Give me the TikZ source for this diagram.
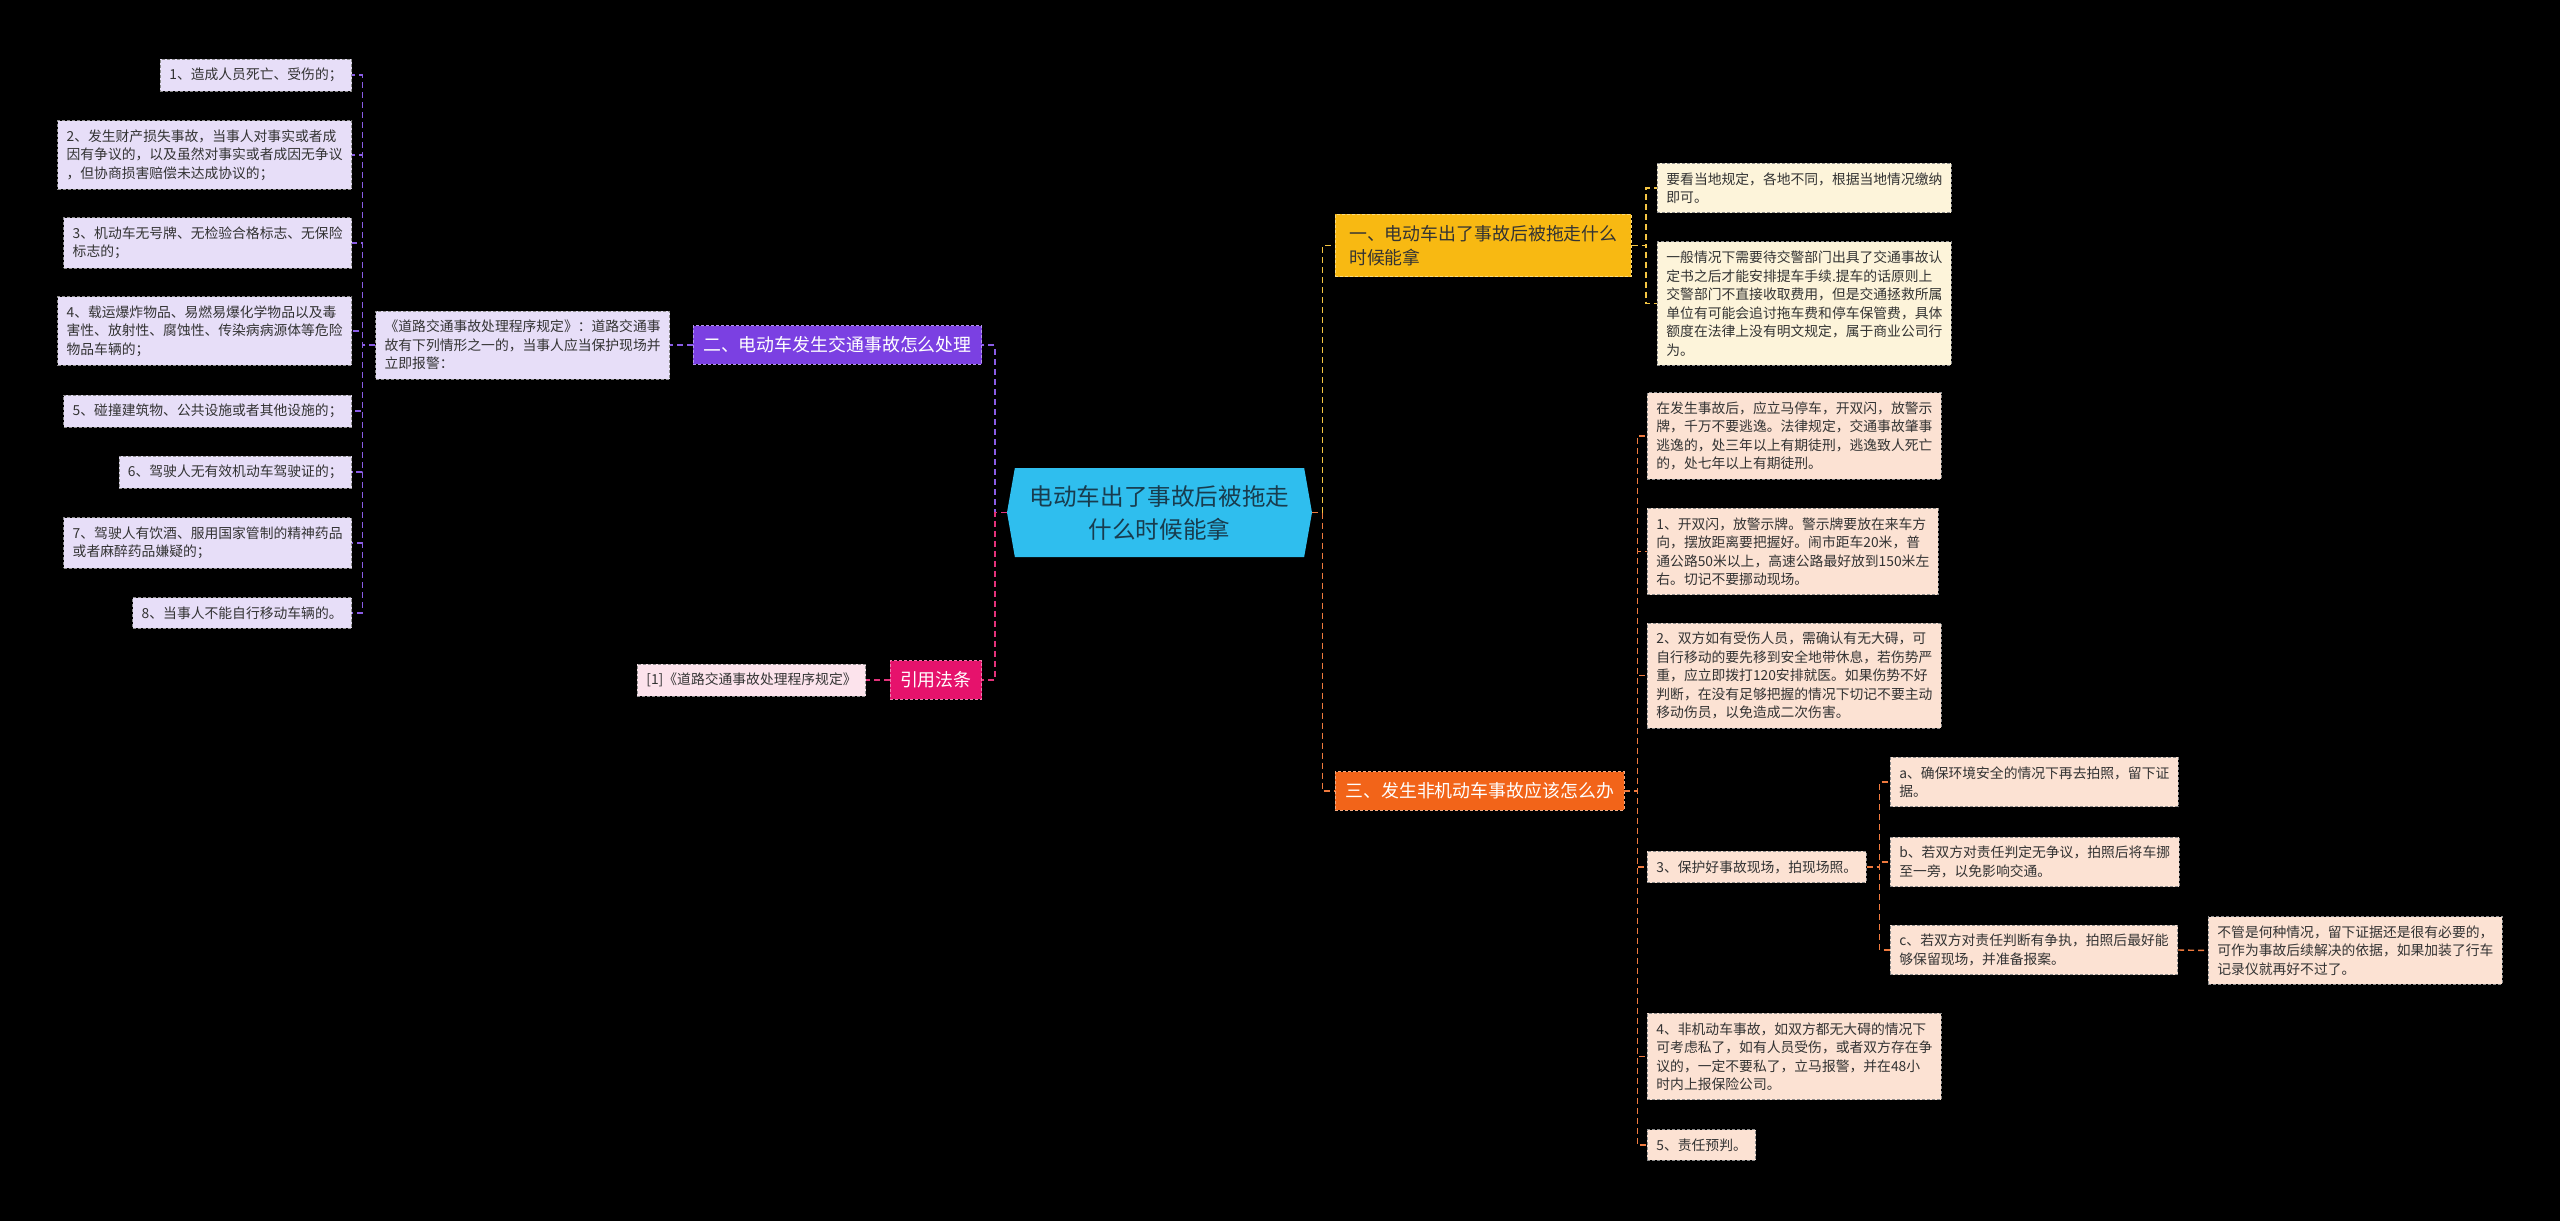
\documentclass[tikz,border=0pt]{standalone}
\usepackage{fontspec}
\setmainfont{Noto Sans CJK SC}
\usetikzlibrary{shapes.symbols}
\definecolor{RootCyan}{RGB}{47,190,238}
\definecolor{RootText}{RGB}{24,60,78}
\definecolor{LeafText}{RGB}{51,51,51}
\definecolor{LeafEdge}{RGB}{140,140,140}
\definecolor{PurpleMain}{RGB}{123,64,226}
\definecolor{PurpleLeaf}{RGB}{231,222,248}
\definecolor{PurpleLine}{RGB}{138,92,230}
\definecolor{PinkMain}{RGB}{230,18,108}
\definecolor{PinkLeaf}{RGB}{252,227,236}
\definecolor{PinkLine}{RGB}{226,50,122}
\definecolor{GoldMain}{RGB}{248,185,18}
\definecolor{GoldLeaf}{RGB}{253,244,218}
\definecolor{GoldLine}{RGB}{244,197,66}
\definecolor{OrangeMain}{RGB}{242,100,25}
\definecolor{OrangeLeaf}{RGB}{252,226,211}
\definecolor{OrangeLine}{RGB}{239,122,62}

\begin{document}
\begin{tikzpicture}[x=1pt, y=-1pt,
    leafbox/.style={rectangle, draw=LeafEdge, dash pattern=on 3pt off 2pt, line width=0.8pt,
      fill=#1, text=LeafText, align=left, inner xsep=9pt, inner ysep=9pt,
      font=\fontsize{13.8}{18.5}\selectfont},
    branchbox/.style={rectangle, draw=#1!55!white, dash pattern=on 3pt off 2pt, line width=0.8pt,
      fill=#1, text=white, align=left, inner xsep=10pt, inner ysep=11pt,
      font=\fontsize{17.9}{24}\selectfont},
    rootbox/.style={shape=signal, signal to=west and east, signal pointer angle=160,
      fill=RootCyan, text=RootText, minimum width=305pt, minimum height=89pt,
      align=center, font=\fontsize{23.6}{33}\selectfont},
    link/.style={draw=#1, dash pattern=on 6pt off 4pt, line width=1.4pt}]
    % Canvas
    \fill[black] (0,0) rectangle (2560,1221);
    \useasboundingbox (0,0) rectangle (2560,1221);

    % Root
    \node[rootbox] (root) at (1159.5,512.5) {电动车出了事故后被拖走\\什么时候能拿};

    % Left branch: 二
    \node[branchbox=PurpleMain, anchor=east] (two) at (982,345) {二、电动车发生交通事故怎么处理};
    \node[leafbox=PurpleLeaf, anchor=east] (law) at (670,345) {《道路交通事故处理程序规定》：道路交通事\\故有下列情形之一的，当事人应当保护现场并\\立即报警：};
    \node[leafbox=PurpleLeaf, anchor=east] (it1) at (352,75) {1、造成人员死亡、受伤的；};
    \node[leafbox=PurpleLeaf, anchor=east] (it2) at (352,155) {2、发生财产损失事故，当事人对事实或者成\\因有争议的，以及虽然对事实或者成因无争议\\，但协商损害赔偿未达成协议的；};
    \node[leafbox=PurpleLeaf, anchor=east] (it3) at (352,243) {3、机动车无号牌、无检验合格标志、无保险\\标志的；};
    \node[leafbox=PurpleLeaf, anchor=east] (it4) at (352,331) {4、载运爆炸物品、易燃易爆化学物品以及毒\\害性、放射性、腐蚀性、传染病病源体等危险\\物品车辆的；};
    \node[leafbox=PurpleLeaf, anchor=east] (it5) at (352,411) {5、碰撞建筑物、公共设施或者其他设施的；};
    \node[leafbox=PurpleLeaf, anchor=east] (it6) at (352,472) {6、驾驶人无有效机动车驾驶证的；};
    \node[leafbox=PurpleLeaf, anchor=east] (it7) at (352,543) {7、驾驶人有饮酒、服用国家管制的精神药品\\或者麻醉药品嫌疑的；};
    \node[leafbox=PurpleLeaf, anchor=east] (it8) at (352,613) {8、当事人不能自行移动车辆的。};

    % Left branch: 引用法条
    \node[branchbox=PinkMain, anchor=east] (cite) at (982,680) {引用法条};
    \node[leafbox=PinkLeaf, anchor=east] (citenote) at (866,680) {[1]《道路交通事故处理程序规定》};

    % Right branch: 一
    \node[branchbox=GoldMain, anchor=west, text=LeafText, minimum width=296pt] (one) at (1335,245.5) {一、电动车出了事故后被拖走什么\\时候能拿};
    \node[leafbox=GoldLeaf, anchor=west] (oneA) at (1657,188) {要看当地规定，各地不同，根据当地情况缴纳\\即可。};
    \node[leafbox=GoldLeaf, anchor=west] (oneB) at (1657,303.5) {一般情况下需要待交警部门出具了交通事故认\\定书之后才能安排提车手续.提车的话原则上\\交警部门不直接收取费用，但是交通拯救所属\\单位有可能会追讨拖车费和停车保管费，具体\\额度在法律上没有明文规定，属于商业公司行\\为。};

    % Right branch: 三
    \node[branchbox=OrangeMain, anchor=west] (three) at (1335,791) {三、发生非机动车事故应该怎么办};
    \node[leafbox=OrangeLeaf, anchor=west] (t0) at (1647,436) {在发生事故后，应立马停车，开双闪，放警示\\牌，千万不要逃逸。法律规定，交通事故肇事\\逃逸的，处三年以上有期徒刑，逃逸致人死亡\\的，处七年以上有期徒刑。};
    \node[leafbox=OrangeLeaf, anchor=west] (t1) at (1647,551.5) {1、开双闪，放警示牌。警示牌要放在来车方\\向，摆放距离要把握好。闹市距车20米，普\\通公路50米以上，高速公路最好放到150米左\\右。切记不要挪动现场。};
    \node[leafbox=OrangeLeaf, anchor=west] (t2) at (1647,675.5) {2、双方如有受伤人员，需确认有无大碍，可\\自行移动的要先移到安全地带休息，若伤势严\\重，应立即拨打120安排就医。如果伤势不好\\判断，在没有足够把握的情况下切记不要主动\\移动伤员，以免造成二次伤害。};
    \node[leafbox=OrangeLeaf, anchor=west] (t3) at (1647,867) {3、保护好事故现场，拍现场照。};
    \node[leafbox=OrangeLeaf, anchor=west] (t3a) at (1890,782) {a、确保环境安全的情况下再去拍照，留下证\\据。};
    \node[leafbox=OrangeLeaf, anchor=west] (t3b) at (1890,862) {b、若双方对责任判定无争议，拍照后将车挪\\至一旁，以免影响交通。};
    \node[leafbox=OrangeLeaf, anchor=west] (t3c) at (1890,950) {c、若双方对责任判断有争执，拍照后最好能\\够保留现场，并准备报案。};
    \node[leafbox=OrangeLeaf, anchor=west] (t3note) at (2208,950.5) {不管是何种情况，留下证据还是很有必要的，\\可作为事故后续解决的依据，如果加装了行车\\记录仪就再好不过了。};
    \node[leafbox=OrangeLeaf, anchor=west] (t4) at (1647,1056.5) {4、非机动车事故，如双方都无大碍的情况下\\可考虑私了，如有人员受伤，或者双方存在争\\议的，一定不要私了，立马报警，并在48小\\时内上报保险公司。};
    \node[leafbox=OrangeLeaf, anchor=west] (t5) at (1647,1145) {5、责任预判。};

    % Connectors, left
    \draw[link=PurpleLine] (root.west) -- ++(-12,0) |- (two.east);
    \draw[link=PinkLine] (root.west) -- ++(-12,0) |- (cite.east);
    \draw[link=PurpleLine] (two.west) -- (law.east);
    \draw[link=PinkLine] (cite.west) -- (citenote.east);
    \draw[link=PurpleLine] (law.west) -- ++(-13,0) |- (it1.east);
    \draw[link=PurpleLine] (law.west) -- ++(-13,0) |- (it2.east);
    \draw[link=PurpleLine] (law.west) -- ++(-13,0) |- (it3.east);
    \draw[link=PurpleLine] (law.west) -- ++(-13,0) |- (it4.east);
    \draw[link=PurpleLine] (law.west) -- ++(-13,0) |- (it5.east);
    \draw[link=PurpleLine] (law.west) -- ++(-13,0) |- (it6.east);
    \draw[link=PurpleLine] (law.west) -- ++(-13,0) |- (it7.east);
    \draw[link=PurpleLine] (law.west) -- ++(-13,0) |- (it8.east);

    % Connectors, right
    \draw[link=GoldLine] (root.east) -- ++(10,0) |- (one.west);
    \draw[link=OrangeLine] (root.east) -- ++(10,0) |- (three.west);
    \draw[link=GoldLine] (one.east) -- ++(14,0) |- (oneA.west);
    \draw[link=GoldLine] (one.east) -- ++(14,0) |- (oneB.west);
    \draw[link=OrangeLine] (three.east) -- ++(13,0) |- (t0.west);
    \draw[link=OrangeLine] (three.east) -- ++(13,0) |- (t1.west);
    \draw[link=OrangeLine] (three.east) -- ++(13,0) |- (t2.west);
    \draw[link=OrangeLine] (three.east) -- ++(13,0) |- (t3.west);
    \draw[link=OrangeLine] (three.east) -- ++(13,0) |- (t4.west);
    \draw[link=OrangeLine] (three.east) -- ++(13,0) |- (t5.west);
    \draw[link=OrangeLine] (t3.east) -- ++(13,0) |- (t3a.west);
    \draw[link=OrangeLine] (t3.east) -- ++(13,0) |- (t3b.west);
    \draw[link=OrangeLine] (t3.east) -- ++(13,0) |- (t3c.west);
    \draw[link=OrangeLine] (t3c.east) -- (t3note.west);
\end{tikzpicture}
\end{document}
